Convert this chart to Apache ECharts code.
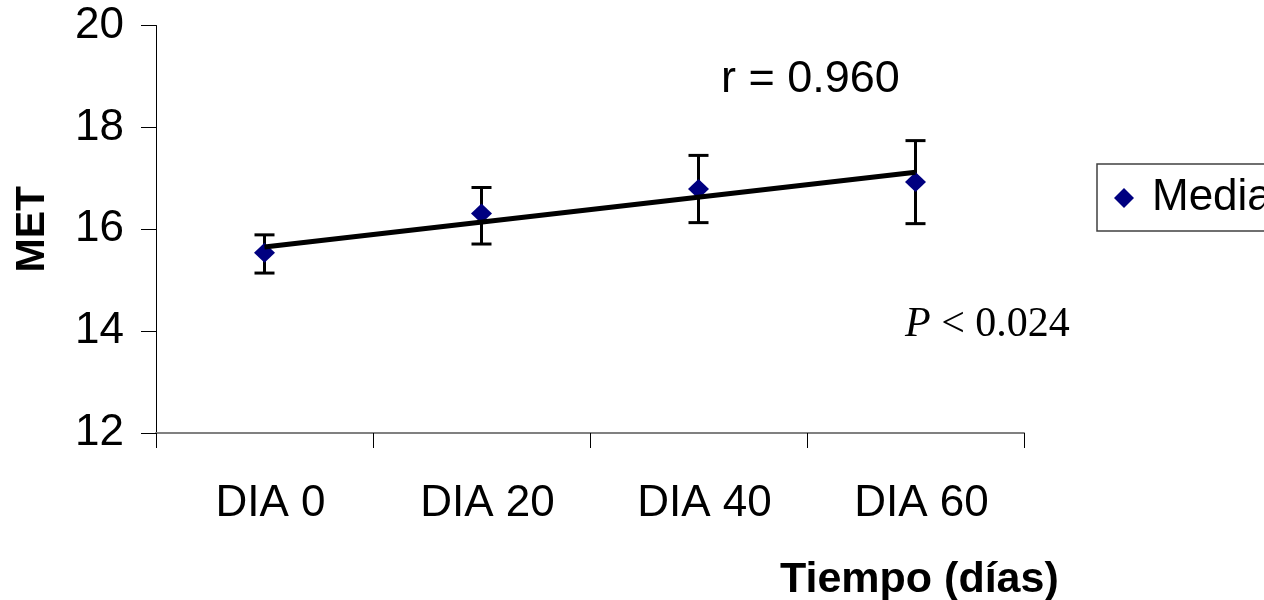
<!DOCTYPE html>
<html>
<head>
<meta charset="utf-8">
<script src="https://cdn.jsdelivr.net/npm/echarts@6/dist/echarts.min.js"></script>
<style>
  html, body { margin: 0; padding: 0; background: #fff; }
  #chart { width: 1264px; height: 600px; }
</style>
</head>
<body>
<div id="chart"></div>
<script>
// datos
var categories = ['DIA 0', 'DIA 20', 'DIA 40', 'DIA 60'];
var media = [15.54, 16.31, 16.79, 16.93];
var errSup = [15.89, 16.82, 17.45, 17.74];
var errInf = [15.14, 15.71, 16.13, 16.11];
var tendencia = [15.65, null, null, 17.12];   // recta de ajuste, extremos
var yTicks = { min: 12, max: 20, interval: 2 };

var arial = 'Liberation Sans, Arial, sans-serif';
var times = 'Liberation Serif, Times New Roman, serif';

var barras = categories.map(function (c, i) {
  return [i, errInf[i], errSup[i]];
});

var chart = echarts.init(document.getElementById('chart'));

var option = {
  animation: false,
  grid: { left: 156, top: 25.5, right: 240, bottom: 167 },
  legend: {
    left: 1097,
    top: 164,
    orient: 'vertical',
    data: [{ name: 'Media', icon: 'diamond' }],
    itemWidth: 20,
    itemHeight: 20,
    padding: [12, 30, 11, 17],
    borderColor: '#404040',
    borderWidth: 1.5,
    textStyle: { fontFamily: arial, fontSize: 44, color: '#000', padding: [0, 0, 0, 13] }
  },
  xAxis: {
    type: 'category',
    data: categories,
    boundaryGap: true,
    axisLine: { lineStyle: { color: '#808080', width: 2 } },
    axisTick: { show: true, interval: 0, length: 15, lineStyle: { color: '#000', width: 1 } },
    axisLabel: { fontFamily: arial, fontSize: 44, color: '#000', margin: 49, padding: [0, 0, 0, 12] },
    splitLine: { show: false }
  },
  yAxis: {
    type: 'value',
    min: yTicks.min,
    max: yTicks.max,
    interval: yTicks.interval,
    name: 'MET',
    nameLocation: 'middle',
    nameGap: 103,
    nameTextStyle: { fontFamily: arial, fontSize: 41, fontWeight: 'bold', color: '#000' },
    axisLine: { show: true, lineStyle: { color: '#000', width: 1 } },
    axisTick: { show: true, length: 15, lineStyle: { color: '#000', width: 1 } },
    axisLabel: { fontFamily: arial, fontSize: 44, color: '#000', margin: 32, padding: [12, 0, 0, 0] },
    splitLine: { show: false }
  },
  series: [
    {
      name: 'error',
      type: 'custom',
      z: 1,
      data: barras,
      renderItem: function (params, api) {
        var i = api.value(0);
        var lo = api.coord([i, api.value(1)]);
        var hi = api.coord([i, api.value(2)]);
        var w = 10;
        var st = { stroke: '#000', lineWidth: 3 };
        return {
          type: 'group',
          children: [
            { type: 'line', shape: { x1: lo[0], y1: lo[1], x2: hi[0], y2: hi[1] }, style: st },
            { type: 'line', shape: { x1: hi[0] - w, y1: hi[1], x2: hi[0] + w, y2: hi[1] }, style: st },
            { type: 'line', shape: { x1: lo[0] - w, y1: lo[1], x2: lo[0] + w, y2: lo[1] }, style: st }
          ]
        };
      }
    },
    {
      name: 'Media',
      type: 'scatter',
      z: 2,
      symbol: 'diamond',
      symbolSize: [21, 20],
      itemStyle: { color: '#000080', opacity: 1 },
      data: media
    },
    {
      name: 'tendencia',
      type: 'line',
      z: 3,
      data: tendencia,
      connectNulls: true,
      showSymbol: false,
      symbol: 'none',
      lineStyle: { color: '#000', width: 5 }
    }
  ],
  graphic: [
    {
      type: 'text',
      left: 721,
      top: 57,
      style: { text: 'r = 0.960', font: '45px ' + arial, fill: '#000' }
    },
    {
      type: 'text',
      left: 905,
      top: 304,
      style: {
        text: '{i|P} < 0.024',
        fill: '#000',
        font: '42px ' + times,
        rich: { i: { fontStyle: 'italic', fontFamily: times, fontSize: 42 } }
      }
    },
    {
      type: 'text',
      left: 780,
      top: 559,
      style: { text: 'Tiempo (días)', font: 'bold 43px ' + arial, fill: '#000' }
    }
  ]
};

chart.setOption(option);
</script>
</body>
</html>
